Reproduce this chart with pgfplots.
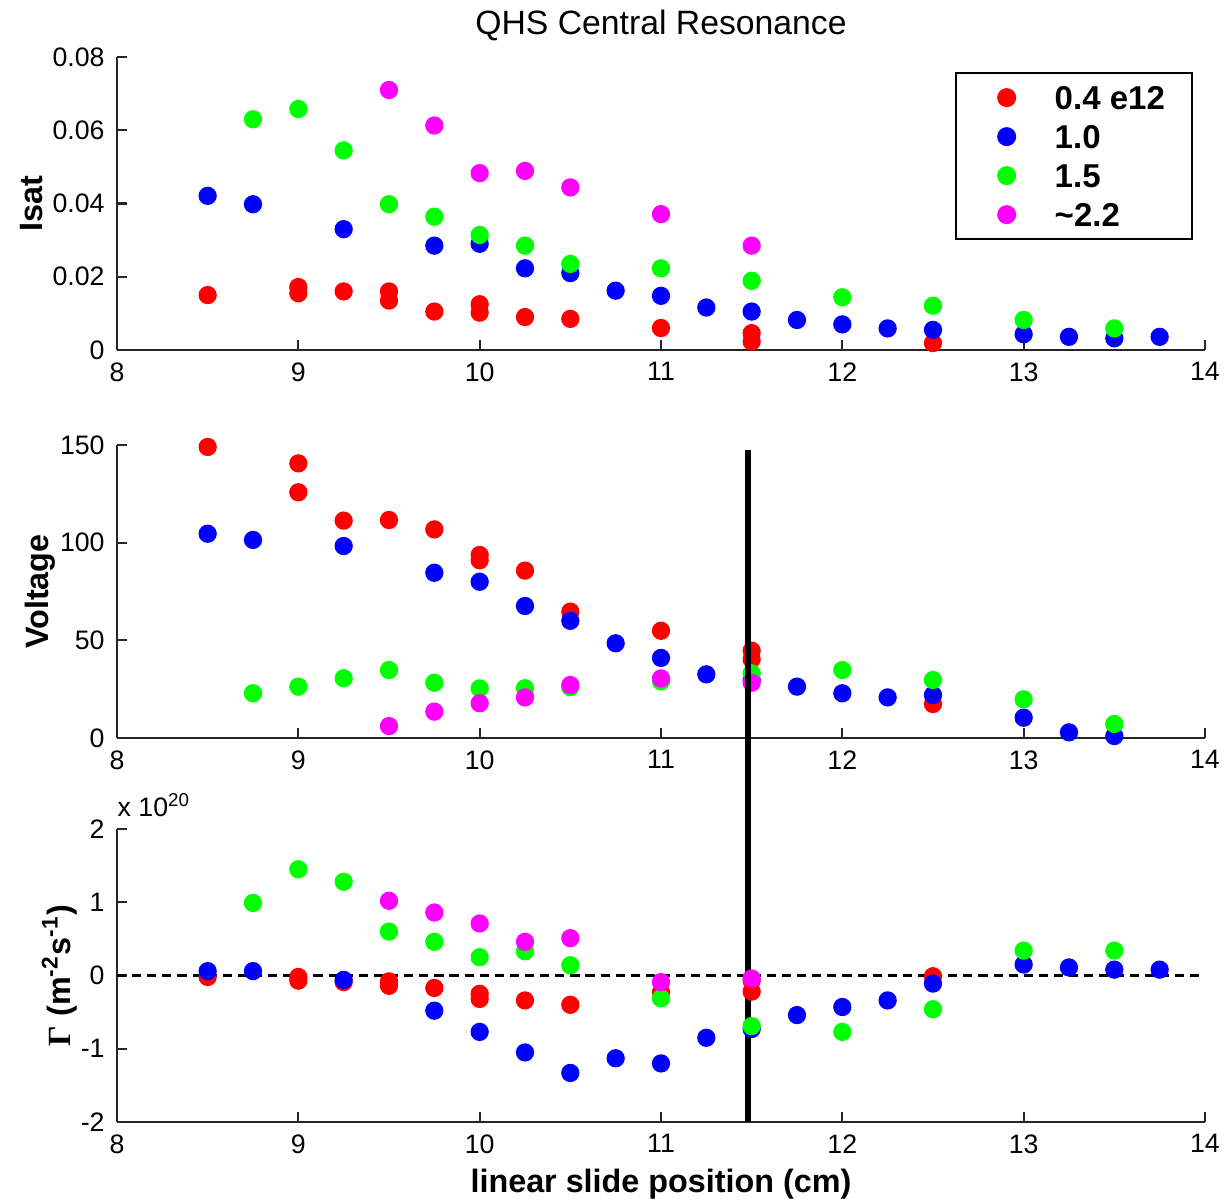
\documentclass[border=0pt]{standalone}
\usepackage{pgfplots}
\pgfplotsset{compat=1.18}
\usepackage{fontspec}
\setmainfont{Liberation Sans}
\newfontfamily\greekserif{Liberation Serif}

\definecolor{cred}{RGB}{255,0,0}
\definecolor{cblue}{RGB}{0,0,255}
\definecolor{cgreen}{RGB}{0,255,0}
\definecolor{cmag}{RGB}{255,0,255}

\pgfplotsset{
  qhs/.style={
    scale only axis,
    width=10.88cm,
    height=2.93cm,
    xmin=8, xmax=14,
    xtick={8,9,10,11,12,13,14},
    axis x line*=bottom,
    axis y line*=left,
    axis line style={-, black!85, line width=0.6pt},
    tick style={black!85, line width=0.6pt},
    tick align=inside,
    major tick length=0.1cm,
    scaled y ticks=false,
    tick label style={font=\fontsize{7.6}{9}\selectfont},
    /pgf/number format/assume math mode=true,
    label style={font=\bfseries\fontsize{9.2}{11}\selectfont},
    xlabel style={yshift=0.08cm},
    ylabel style={yshift=-0.14cm},
    clip=false,
  },
  dots/.style={only marks, mark=*, mark size=2.4pt,
    color=#1, mark options={draw=#1, fill=#1}},
}

\begin{document}
\begin{tikzpicture}

% Isat
\begin{axis}[qhs,
  at={(0,0)}, anchor=south west,
  ymin=0, ymax=0.08,
  ytick={0,0.02,0.04,0.06,0.08},
  yticklabels={0,0.02,0.04,0.06,0.08},
  ylabel={Isat},
  title={QHS Central Resonance},
  title style={font=\fontsize{9.6}{11}\selectfont, yshift=-5pt},
  legend style={at={(0.989,0.949)}, anchor=north east,
    draw=black, line width=0.6pt,
    font=\bfseries\fontsize{9.4}{11}\selectfont,
    inner xsep=0pt, inner ysep=3.5pt, row sep=4.1pt,
    nodes={inner xsep=0.27cm, inner ysep=0pt, text height=7pt, text depth=0pt}},
  legend cell align=left,
  legend image code/.code={
    \path (0,0) (0.70cm,0);
    \draw[#1] plot coordinates {(0.50cm,0cm)};
  },
]
\addplot[dots=cred] coordinates {
  (8.5,0.015) (9,0.0172) (9,0.0155) (9.25,0.016) (9.5,0.016) (9.5,0.0135)
  (9.75,0.0105) (10,0.0125) (10,0.0102) (10.25,0.009) (10.5,0.0085)
  (11,0.006) (11.5,0.0046) (11.5,0.0023) (12.5,0.0019)};
\addplot[dots=cblue] coordinates {
  (8.5,0.0421) (8.75,0.0398) (9.25,0.033) (9.75,0.0285) (10,0.029)
  (10.25,0.0223) (10.5,0.021) (10.75,0.0162) (11,0.0148) (11.25,0.0116)
  (11.5,0.0105) (11.75,0.0082) (12,0.007) (12.25,0.0059) (12.5,0.0055)
  (13,0.0043) (13.25,0.0036) (13.5,0.0032) (13.75,0.0036)};
\addplot[dots=cgreen] coordinates {
  (8.75,0.063) (9,0.0658) (9.25,0.0545) (9.5,0.0398) (9.75,0.0364)
  (10,0.0314) (10.25,0.0285) (10.5,0.0235) (11,0.0223) (11.5,0.0189)
  (12,0.0144) (12.5,0.0121) (13,0.0082) (13.5,0.0059)};
\addplot[dots=cmag] coordinates {
  (9.5,0.071) (9.75,0.0613) (10,0.0483) (10.25,0.0489) (10.5,0.0444)
  (11,0.0371) (11.5,0.0285)};
\legend{0.4 e12,1.0,1.5,\textasciitilde2.2}
\end{axis}

% Voltage
\begin{axis}[qhs,
  at={(0,-3.88cm)}, anchor=south west,
  ymin=0, ymax=150,
  ytick={0,50,100,150},
  ylabel={Voltage},
  ylabel style={yshift=-0.05cm},
]
\addplot[dots=cred] coordinates {
  (8.5,149) (9,140.6) (9,125.8) (9.25,111.3) (9.5,111.6) (9.75,106.8)
  (10,93.7) (10,91) (10.25,85.7) (10.5,64.7) (11,54.9) (11.5,44.7)
  (11.5,40.3) (12.5,17.4)};
\addplot[dots=cblue] coordinates {
  (8.5,104.6) (8.75,101.4) (9.25,98.3) (9.75,84.6) (10,80) (10.25,67.6)
  (10.5,60) (10.75,48.5) (11,41) (11.25,32.6) (11.5,29.7) (11.75,26.3)
  (12,22.9) (12.25,20.8) (12.5,22) (13,10.4) (13.25,2.9) (13.5,1)};
\addplot[dots=cgreen] coordinates {
  (8.75,22.9) (9,26.3) (9.25,30.6) (9.5,34.8) (9.75,28.3) (10,25.4)
  (10.25,25.5) (10.5,26) (11,29) (11.5,33.1) (12,34.8) (12.5,29.7)
  (13,19.8) (13.5,7.2)};
\addplot[dots=cmag] coordinates {
  (9.5,6.1) (9.75,13.5) (10,17.8) (10.25,20.8) (10.5,27.1) (11,30.5)
  (11.5,28.3)};
\end{axis}

% Flux
\begin{axis}[qhs,
  at={(0,-7.72cm)}, anchor=south west,
  ymin=-2, ymax=2,
  ytick={-2,-1,0,1,2},
  ylabel={{\greekserif Γ} (m\textsuperscript{-2}s\textsuperscript{-1})},
  ylabel style={yshift=-0.07cm},
  xlabel={linear slide position (cm)},
]
\addplot[black, line width=0.6pt, dash pattern=on 2.6pt off 1.7pt]
  coordinates {(8,0) (14,0)};
\addplot[dots=cred] coordinates {
  (8.5,-0.02) (9,-0.02) (9,-0.07) (9.25,-0.09) (9.5,-0.08) (9.5,-0.14)
  (9.75,-0.17) (10,-0.25) (10,-0.32) (10.25,-0.34) (10.5,-0.40)
  (11,-0.23) (11.5,-0.07) (11.5,-0.22) (12.5,-0.01)};
\addplot[dots=cblue] coordinates {
  (8.5,0.06) (8.75,0.06) (9.25,-0.06) (9.75,-0.48) (10,-0.77)
  (10.25,-1.05) (10.5,-1.33) (10.75,-1.13) (11,-1.20) (11.25,-0.85)
  (11.5,-0.73) (11.75,-0.54) (12,-0.43) (12.25,-0.34) (12.5,-0.11)
  (13,0.15) (13.25,0.11) (13.5,0.08) (13.75,0.08)};
\addplot[dots=cgreen] coordinates {
  (8.75,0.99) (9,1.45) (9.25,1.28) (9.5,0.60) (9.75,0.46) (10,0.25)
  (10.25,0.33) (10.5,0.14) (11,-0.31) (11.5,-0.69) (12,-0.77)
  (12.5,-0.46) (13,0.34) (13.5,0.34)};
\addplot[dots=cmag] coordinates {
  (9.5,1.02) (9.75,0.86) (10,0.71) (10.25,0.46) (10.5,0.51)
  (11,-0.09) (11.5,-0.04)};
\node[anchor=base west, inner sep=0pt, font=\fontsize{7.6}{9}\selectfont]
  at ([yshift=0.13cm]rel axis cs:0,1) {x 10\textsuperscript{20}};
\draw[black, line width=1.5pt] (axis cs:11.48,-2) -- (axis cs:11.48,7.18);
\end{axis}

\pgfresetboundingbox
\path[use as bounding box] (-1.17,-8.50) rectangle (11.15,3.50);
\end{tikzpicture}
\end{document}
